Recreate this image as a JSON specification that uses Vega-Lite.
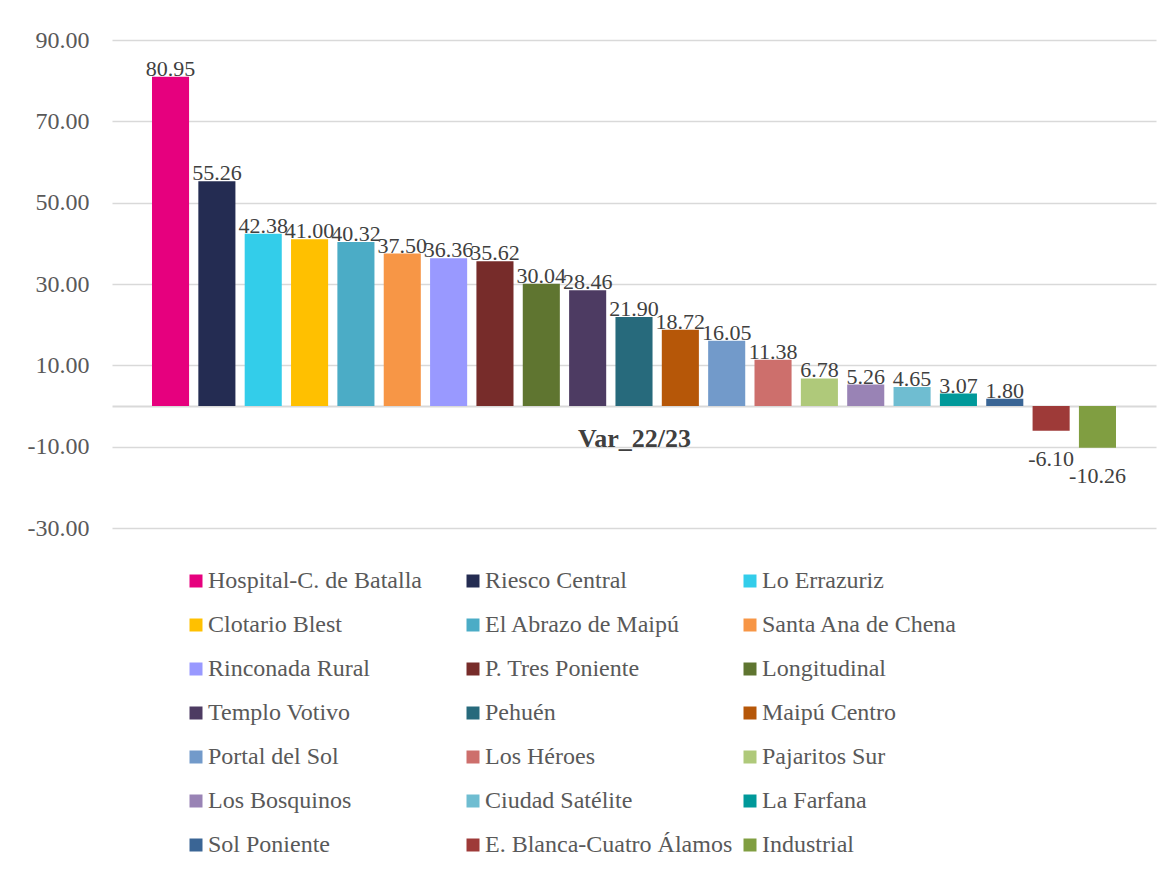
{
  "$schema": "https://vega.github.io/schema/vega-lite/v6.json",
  "autosize": "none",
  "width": 1044,
  "height": 488,
  "padding": {"left": 112, "top": 40, "right": 16, "bottom": 344},
  "background": "white",
  "config": {
    "view": {"stroke": null},
    "locale": {"number": {"decimal": ".", "thousands": ",", "grouping": [3], "currency": ["$", ""], "minus": "-"}}
  },
  "data": {
    "values": [
      {"station": "Hospital-C. de Batalla", "value": 80.95},
      {"station": "Riesco Central", "value": 55.26},
      {"station": "Lo Errazuriz", "value": 42.38},
      {"station": "Clotario Blest", "value": 41.00},
      {"station": "El Abrazo de Maipú", "value": 40.32},
      {"station": "Santa Ana de Chena", "value": 37.50},
      {"station": "Rinconada Rural", "value": 36.36},
      {"station": "P. Tres Poniente", "value": 35.62},
      {"station": "Longitudinal", "value": 30.04},
      {"station": "Templo Votivo", "value": 28.46},
      {"station": "Pehuén", "value": 21.90},
      {"station": "Maipú Centro", "value": 18.72},
      {"station": "Portal del Sol", "value": 16.05},
      {"station": "Los Héroes", "value": 11.38},
      {"station": "Pajaritos Sur", "value": 6.78},
      {"station": "Los Bosquinos", "value": 5.26},
      {"station": "Ciudad Satélite", "value": 4.65},
      {"station": "La Farfana", "value": 3.07},
      {"station": "Sol Poniente", "value": 1.80},
      {"station": "E. Blanca-Cuatro Álamos", "value": -6.10},
      {"station": "Industrial", "value": -10.26}
    ]
  },
  "encoding": {
    "x": {
      "field": "station", "type": "nominal", "sort": null,
      "scale": {"paddingInner": 0.2, "paddingOuter": 0.863},
      "axis": {
        "orient": "bottom", "offset": -122, "labels": false, "ticks": false,
        "domain": true, "domainColor": "#d9d9d9", "domainWidth": 2,
        "title": "Var_22/23", "titleFont": "Liberation Serif", "titleFontSize": 26,
        "titleFontWeight": "bold", "titleColor": "#404040", "titlePadding": 19
      }
    },
    "y": {
      "field": "value", "type": "quantitative",
      "scale": {"domain": [-30, 90], "nice": false, "zero": false},
      "axis": {
        "values": [-30, -10, 10, 30, 50, 70, 90], "format": ".2f",
        "title": null, "domain": false, "ticks": false, "tickSize": 0,
        "labelPadding": 23, "labelFont": "Liberation Serif", "labelFontSize": 24,
        "labelColor": "#595959", "gridColor": "#d9d9d9", "gridWidth": 1.5
      }
    }
  },
  "layer": [
    {
      "mark": {"type": "bar"},
      "encoding": {
        "color": {
          "field": "station", "type": "nominal", "sort": null,
          "scale": {
            "domain": ["Hospital-C. de Batalla", "Riesco Central", "Lo Errazuriz", "Clotario Blest", "El Abrazo de Maipú", "Santa Ana de Chena", "Rinconada Rural", "P. Tres Poniente", "Longitudinal", "Templo Votivo", "Pehuén", "Maipú Centro", "Portal del Sol", "Los Héroes", "Pajaritos Sur", "Los Bosquinos", "Ciudad Satélite", "La Farfana", "Sol Poniente", "E. Blanca-Cuatro Álamos", "Industrial"],
            "range": ["#e6007e", "#242c52", "#33cdea", "#ffc000", "#4bacc6", "#f79646", "#9999ff", "#772c2a", "#5f7530", "#4d3b62", "#276a7c", "#b65708", "#729aca", "#cd6f6c", "#afc97a", "#9983b5", "#6fbdd1", "#00999a", "#3a6595", "#9e3a38", "#809e41"]
          },
          "legend": {
            "orient": "none", "legendX": 72, "legendY": 529, "title": null,
            "direction": "horizontal",
            "columns": 3, "gridAlign": "all", "columnPadding": 5, "rowPadding": 20,
            "symbolType": "square", "symbolSize": 169, "symbolStrokeWidth": 0,
            "labelFont": "Liberation Serif", "labelFontSize": 24, "labelColor": "#595959",
            "labelOffset": 0, "labelLimit": 400, "padding": 0
          }
        }
      }
    },
    {
      "transform": [{"filter": "datum.value >= 0"}],
      "mark": {"type": "text", "baseline": "alphabetic", "align": "center", "dy": -1, "font": "Liberation Serif", "fontSize": 22, "color": "#404040"},
      "encoding": {"text": {"field": "value", "type": "quantitative", "format": ".2f"}}
    },
    {
      "transform": [{"filter": "datum.value < 0"}],
      "mark": {"type": "text", "baseline": "top", "align": "center", "dy": 18, "font": "Liberation Serif", "fontSize": 22, "color": "#404040"},
      "encoding": {"text": {"field": "value", "type": "quantitative", "format": ".2f"}}
    }
  ]
}
